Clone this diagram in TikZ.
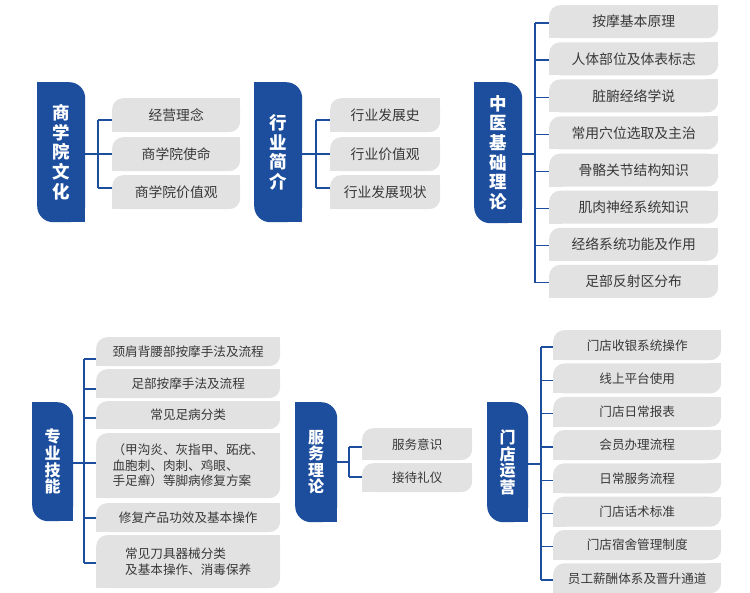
\documentclass[tikz,border=0pt]{standalone}
\usepackage{fontspec}
\setmainfont{Noto Sans CJK SC}
\definecolor{bluec}{HTML}{1D4E9E}
\definecolor{grayc}{HTML}{E2E2E2}
\definecolor{txtc}{HTML}{383838}
\tikzset{
  bluebox/.style={rectangle, inner sep=0pt, anchor=north west, text=white, align=center,
    path picture={
      \fill[bluec, rounded corners=16pt] (path picture bounding box.south west) rectangle (path picture bounding box.north east);
      \fill[bluec] (path picture bounding box.north west) rectangle ++(18pt,-18pt);
      \fill[bluec] (path picture bounding box.south east) rectangle ++(-18pt,18pt);
    }},
  topblue/.style={bluebox, font=\fontsize{17.5}{19.6}\selectfont\bfseries},
  botblue/.style={bluebox, font=\fontsize{16}{16.6}\selectfont\bfseries},
  gbox/.style={rectangle, inner sep=0pt, anchor=north west, text=txtc, align=left,
    path picture={
      \fill[grayc, rounded corners=11pt] (path picture bounding box.south west) rectangle (path picture bounding box.north east);
      \fill[grayc] (path picture bounding box.north east) rectangle ++(-13pt,-13pt);
      \fill[grayc] (path picture bounding box.south west) rectangle ++(13pt,13pt);
    }},
  topg/.style={gbox, font=\fontsize{13.8}{16}\selectfont},
  botg/.style={gbox, font=\fontsize{12.6}{15.5}\selectfont},
  conn/.style={draw=bluec, line width=1.3pt},
}
\begin{document}
\begin{tikzpicture}[x=1pt, y=-1pt]
\useasboundingbox (0,0) rectangle (750,593);
\fill[white] (0,0) rectangle (750,593);

% ---------- Group 1 ----------
\node[topblue, minimum width=48pt, minimum height=140pt] (b1) at (37,82) {商\\学\\院\\文\\化};
\node[topg, minimum width=128pt, minimum height=34pt] (g1a) at (112,98) {经营理念};
\node[topg, minimum width=128pt, minimum height=34pt] (g1b) at (112,137) {商学院使命};
\node[topg, minimum width=128pt, minimum height=34pt] (g1c) at (112,175) {商学院价值观};
\coordinate (j1) at (98,154);
\coordinate (t1a) at (98,120);
\coordinate (t1b) at (98,154);
\coordinate (t1c) at (98,188);
\draw[conn] (b1.east |- j1) -- (j1);
\draw[conn] (t1a) -- (t1c);
\foreach \t/\g in {t1a/g1a, t1b/g1b, t1c/g1c} \draw[conn] (\t) -- (\t -| \g.west);

% ---------- Group 2 ----------
\node[topblue, minimum width=48pt, minimum height=140pt] (b2) at (254,82) {行\\业\\简\\介};
\node[topg, minimum width=110pt, minimum height=34pt] (g2a) at (330,98) {行业发展史};
\node[topg, minimum width=110pt, minimum height=34pt] (g2b) at (330,137) {行业价值观};
\node[topg, minimum width=110pt, minimum height=34pt] (g2c) at (330,175) {行业发展现状};
\coordinate (j2) at (316,154);
\coordinate (t2a) at (316,120);
\coordinate (t2b) at (316,154);
\coordinate (t2c) at (316,188);
\draw[conn] (b2.east |- j2) -- (j2);
\draw[conn] (t2a) -- (t2c);
\foreach \t/\g in {t2a/g2a, t2b/g2b, t2c/g2c} \draw[conn] (\t) -- (\t -| \g.west);

% ---------- Group 3 ----------
\node[topblue, minimum width=48pt, minimum height=141pt] (b3) at (474,82) {中\\医\\基\\础\\理\\论};
\foreach \i/\txt in {0/按摩基本原理, 1/人体部位及体表标志, 2/脏腑经络学说, 3/常用穴位选取及主治, 4/骨骼关节结构知识, 5/肌肉神经系统知识, 6/经络系统功能及作用, 7/足部反射区分布} {
  \node[topg, minimum width=169pt, minimum height=33pt] (g3-\i) at (549,{5+37.1*\i}) {\txt};
  \coordinate (t3-\i) at (535,{23+37.1*\i});
  \draw[conn] (t3-\i) -- (t3-\i -| g3-\i.west);
}
\coordinate (j3) at (535,154);
\draw[conn] (b3.east |- j3) -- (j3);
\draw[conn] (t3-0) -- (t3-7);

% ---------- Group 4 ----------
\node[botblue, minimum width=41pt, minimum height=119pt] (b4) at (32,402) {专\\业\\技\\能};
\node[botg, minimum width=184pt, minimum height=29pt] (g4a) at (96,337) {颈肩背腰部按摩手法及流程};
\node[botg, minimum width=184pt, minimum height=29pt] (g4b) at (96,369) {足部按摩手法及流程};
\node[botg, minimum width=184pt, minimum height=28pt] (g4c) at (96,401) {常见足病分类};
\node[botg, minimum width=184pt, minimum height=65pt] (g4d) at (96,433) {（甲沟炎、灰指甲、跖疣、\\血胞刺、肉刺、鸡眼、\\手足癣）等脚病修复方案};
\node[botg, minimum width=184pt, minimum height=29pt] (g4e) at (96,503) {修复产品功效及基本操作};
\node[botg, minimum width=184pt, minimum height=53pt] (g4f) at (96,535) {常见刀具器械分类\\及基本操作、消毒保养};
\coordinate (j4) at (84,463);
\coordinate (t4a) at (84,359);
\coordinate (t4b) at (84,389);
\coordinate (t4c) at (84,418);
\coordinate (t4d) at (84,463);
\coordinate (t4e) at (84,518);
\coordinate (t4f) at (84,563);
\draw[conn] (b4.east |- j4) -- (j4);
\draw[conn] (t4a) -- (t4f);
\foreach \t/\g in {t4a/g4a, t4b/g4b, t4c/g4c, t4d/g4d, t4e/g4e, t4f/g4f} \draw[conn] (\t) -- (\t -| \g.west);

% ---------- Group 5 ----------
\node[botblue, minimum width=42pt, minimum height=120pt] (b5) at (295,402) {服\\务\\理\\论};
\node[botg, minimum width=110pt, minimum height=32pt] (g5a) at (362,428) {服务意识};
\node[botg, minimum width=110pt, minimum height=29pt] (g5b) at (362,463) {接待礼仪};
\coordinate (j5) at (349,462);
\coordinate (t5a) at (349,447);
\coordinate (t5b) at (349,477);
\draw[conn] (b5.east |- j5) -- (j5);
\draw[conn] (t5a) -- (t5b);
\foreach \t/\g in {t5a/g5a, t5b/g5b} \draw[conn] (\t) -- (\t -| \g.west);

% ---------- Group 6 ----------
\node[botblue, minimum width=41pt, minimum height=120pt] (b6) at (487,402) {门\\店\\运\\营};
\foreach \i/\txt in {0/门店收银系统操作, 1/线上平台使用, 2/门店日常报表, 3/会员办理流程, 4/日常服务流程, 5/门店话术标准, 6/门店宿舍管理制度, 7/员工薪酬体系及晋升通道} {
  \node[botg, minimum width=168pt, minimum height=30pt] (g6-\i) at (553,{330+33.3*\i}) {\txt};
  \coordinate (t6-\i) at (541,{347+33.3*\i});
  \draw[conn] (t6-\i) -- (t6-\i -| g6-\i.west);
}
\coordinate (j6) at (541,464);
\draw[conn] (b6.east |- j6) -- (j6);
\draw[conn] (t6-0) -- (t6-7);
\end{tikzpicture}
\end{document}
